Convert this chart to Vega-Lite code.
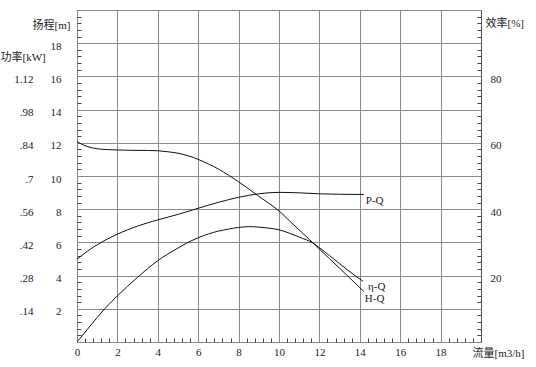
{
  "$schema": "https://vega.github.io/schema/vega-lite/v6.json",
  "width": 404,
  "height": 332,
  "autosize": {"type": "none"},
  "padding": {"left": 77, "top": 10, "right": 55, "bottom": 25},
  "background": "white",
  "config": {
    "view": {"stroke": "#555", "strokeWidth": 1},
    "axis": {
      "labelFont": "Liberation Serif",
      "labelFontSize": 11,
      "labelColor": "#222",
      "titleFont": "Liberation Serif, Noto Sans CJK SC",
      "titleFontSize": 11,
      "titleFontWeight": "normal",
      "titleColor": "#222",
      "gridColor": "#888",
      "domain": false
    },
    "text": {"font": "Liberation Serif, Noto Sans CJK SC", "fontSize": 11, "color": "#222"}
  },
  "datasets": {
    "head": [
      {"Q": 0, "H": 12.06}, {"Q": 0.5, "H": 11.78}, {"Q": 1, "H": 11.64}, {"Q": 1.5, "H": 11.59},
      {"Q": 2, "H": 11.57}, {"Q": 2.65, "H": 11.55}, {"Q": 3.5, "H": 11.54}, {"Q": 4, "H": 11.52},
      {"Q": 4.5, "H": 11.46}, {"Q": 5, "H": 11.37}, {"Q": 5.5, "H": 11.22}, {"Q": 6, "H": 11.0},
      {"Q": 6.5, "H": 10.73}, {"Q": 7, "H": 10.42}, {"Q": 7.5, "H": 10.05}, {"Q": 8, "H": 9.65},
      {"Q": 8.5, "H": 9.22}, {"Q": 9, "H": 8.78}, {"Q": 9.5, "H": 8.35}, {"Q": 10, "H": 7.9},
      {"Q": 10.5, "H": 7.32}, {"Q": 11, "H": 6.75}, {"Q": 11.5, "H": 6.18}, {"Q": 12, "H": 5.6},
      {"Q": 12.5, "H": 5.02}, {"Q": 13, "H": 4.44}, {"Q": 13.5, "H": 3.86}, {"Q": 14, "H": 3.28},
      {"Q": 14.2, "H": 3.04}
    ],
    "power": [
      {"Q": 0, "P": 0.349}, {"Q": 0.5, "P": 0.382}, {"Q": 1, "P": 0.41}, {"Q": 1.5, "P": 0.434},
      {"Q": 2, "P": 0.455}, {"Q": 3, "P": 0.489}, {"Q": 4, "P": 0.515}, {"Q": 5, "P": 0.538},
      {"Q": 6, "P": 0.564}, {"Q": 7, "P": 0.589}, {"Q": 8, "P": 0.61}, {"Q": 9, "P": 0.625},
      {"Q": 10, "P": 0.631}, {"Q": 11, "P": 0.629}, {"Q": 12, "P": 0.625}, {"Q": 13, "P": 0.623},
      {"Q": 14.2, "P": 0.622}
    ],
    "eff": [
      {"Q": 0, "E": 0}, {"Q": 0.5, "E": 3.7}, {"Q": 1, "E": 7.4}, {"Q": 1.39, "E": 10.1},
      {"Q": 2, "E": 13.9}, {"Q": 3, "E": 19.5}, {"Q": 4, "E": 24.5}, {"Q": 5, "E": 28.3},
      {"Q": 5.5, "E": 30.0}, {"Q": 6, "E": 31.4}, {"Q": 7, "E": 33.4}, {"Q": 7.5, "E": 34.0},
      {"Q": 8, "E": 34.5}, {"Q": 8.5, "E": 34.75}, {"Q": 9, "E": 34.6}, {"Q": 9.5, "E": 34.3},
      {"Q": 10, "E": 33.8}, {"Q": 10.5, "E": 32.8}, {"Q": 11, "E": 31.6}, {"Q": 11.7, "E": 29.75},
      {"Q": 12, "E": 28.4}, {"Q": 13, "E": 23.6}, {"Q": 13.76, "E": 20.0}, {"Q": 14.16, "E": 18.3}
    ],
    "labelH": [{"Q": 14.2, "H": 3.04, "label": "H-Q"}],
    "labelP": [{"Q": 14.2, "P": 0.622, "label": "P-Q"}],
    "labelE": [{"Q": 14.16, "E": 18.3, "label": "η-Q"}]
  },
  "layer": [
    {
      "data": {"name": "head"},
      "mark": {"type": "line", "color": "#111", "strokeWidth": 1, "interpolate": "monotone"},
      "encoding": {
        "x": {
          "field": "Q", "type": "quantitative",
          "scale": {"domain": [0, 20], "nice": false},
          "axis": {
            "orient": "bottom",
            "values": [0, 2, 4, 6, 8, 10, 12, 14, 16, 18],
            "grid": true, "ticks": false, "labelPadding": 4,
            "labelFlush": false,
            "title": "流量[m3/h]", "titleX": 395, "titleY": 11,
            "titleAlign": "left", "titleBaseline": "middle"
          }
        },
        "y": {
          "field": "H", "type": "quantitative",
          "scale": {"domain": [0, 20], "nice": false},
          "axis": {
            "orient": "left",
            "values": [0, 2, 4, 6, 8, 10, 12, 14, 16, 18, 20],
            "grid": true, "ticks": false, "labelPadding": 16, "labelOffset": 3,
            "labelFlush": false,
            "labelExpr": "datum.value == 0 || datum.value == 20 ? '' : datum.label",
            "title": "扬程[m]", "titleAngle": 0, "titleX": -7, "titleY": 15,
            "titleAlign": "right", "titleBaseline": "middle"
          }
        }
      }
    },
    {
      "data": {"name": "power"},
      "mark": {"type": "line", "color": "#111", "strokeWidth": 1, "interpolate": "monotone"},
      "encoding": {
        "x": {"field": "Q", "type": "quantitative", "scale": {"domain": [0, 20], "nice": false}, "axis": null},
        "y": {
          "field": "P", "type": "quantitative",
          "scale": {"domain": [0, 1.4], "nice": false},
          "axis": {
            "orient": "left", "offset": 40,
            "values": [0.14, 0.28, 0.42, 0.56, 0.7, 0.84, 0.98, 1.12],
            "grid": false, "ticks": false, "labelPadding": 4, "labelOffset": 3,
            "labelFlush": false,
            "labelExpr": "datum.value < 1 ? slice(format(datum.value, '.2~f'), 1) : format(datum.value, '.2~f')",
            "title": "功率[kW]", "titleAngle": 0, "titleX": -37, "titleY": 47,
            "titleAlign": "left", "titleBaseline": "middle"
          }
        }
      }
    },
    {
      "data": {"name": "eff"},
      "mark": {"type": "line", "color": "#111", "strokeWidth": 1, "interpolate": "monotone"},
      "encoding": {
        "x": {"field": "Q", "type": "quantitative", "scale": {"domain": [0, 20], "nice": false}, "axis": null},
        "y": {
          "field": "E", "type": "quantitative",
          "scale": {"domain": [0, 100], "nice": false},
          "axis": {
            "orient": "right",
            "values": [20, 40, 60, 80],
            "grid": false, "ticks": false, "labelPadding": 9, "labelOffset": 3,
            "labelFlush": false,
            "title": "效率[%]", "titleAngle": 0, "titleX": 4, "titleY": 13,
            "titleAlign": "left", "titleBaseline": "middle"
          }
        }
      }
    },
    {
      "data": {"name": "labelH"},
      "mark": {"type": "text", "align": "left", "baseline": "middle", "dx": 1, "dy": 7.5},
      "encoding": {
        "text": {"field": "label"},
        "x": {"field": "Q", "type": "quantitative", "scale": {"domain": [0, 20], "nice": false}, "axis": null},
        "y": {"field": "H", "type": "quantitative", "scale": {"domain": [0, 20], "nice": false}, "axis": null}
      }
    },
    {
      "data": {"name": "labelP"},
      "mark": {"type": "text", "align": "left", "baseline": "middle", "dx": 2, "dy": 7},
      "encoding": {
        "text": {"field": "label"},
        "x": {"field": "Q", "type": "quantitative", "scale": {"domain": [0, 20], "nice": false}, "axis": null},
        "y": {"field": "P", "type": "quantitative", "scale": {"domain": [0, 1.4], "nice": false}, "axis": null}
      }
    },
    {
      "data": {"name": "labelE"},
      "mark": {"type": "text", "align": "left", "baseline": "middle", "dx": 5, "dy": 5.5},
      "encoding": {
        "text": {"field": "label"},
        "x": {"field": "Q", "type": "quantitative", "scale": {"domain": [0, 20], "nice": false}, "axis": null},
        "y": {"field": "E", "type": "quantitative", "scale": {"domain": [0, 100], "nice": false}, "axis": null}
      }
    },
    {
      "data": {"name": "labelH"},
      "mark": {"type": "text", "text": ""},
      "encoding": {
        "x": {"field": "Q", "type": "quantitative", "scale": {"domain": [0, 20], "nice": false},
          "axis": {"orient": "top", "offset": -332, "tickCount": 100, "values": [0.4, 0.8, 1.2, 1.6, 2.4, 2.8, 3.2, 3.6, 4.4, 4.8], "grid": false, "ticks": true, "tickSize": 4, "tickColor": "#444", "labels": false, "title": null}},
        "y": {"field": "H", "type": "quantitative", "scale": {"domain": [0, 20], "nice": false},
          "axis": {"orient": "right", "offset": -404, "tickCount": 100, "values": [0.4, 0.8, 1.2, 1.6, 2.4, 2.8, 3.2, 3.6, 4.4, 4.8], "grid": false, "ticks": true, "tickSize": 4, "tickColor": "#444", "labels": false, "title": null}}
      }
    },
    {
      "data": {"name": "labelH"},
      "mark": {"type": "text", "text": ""},
      "encoding": {
        "x": {"field": "Q", "type": "quantitative", "scale": {"domain": [0, 20], "nice": false},
          "axis": {"orient": "top", "offset": -332, "tickCount": 100, "values": [5.2, 5.6, 6.4, 6.8, 7.2, 7.6, 8.4, 8.8, 9.2, 9.6], "grid": false, "ticks": true, "tickSize": 4, "tickColor": "#444", "labels": false, "title": null}},
        "y": {"field": "H", "type": "quantitative", "scale": {"domain": [0, 20], "nice": false},
          "axis": {"orient": "right", "offset": -404, "tickCount": 100, "values": [5.2, 5.6, 6.4, 6.8, 7.2, 7.6, 8.4, 8.8, 9.2, 9.6], "grid": false, "ticks": true, "tickSize": 4, "tickColor": "#444", "labels": false, "title": null}}
      }
    },
    {
      "data": {"name": "labelH"},
      "mark": {"type": "text", "text": ""},
      "encoding": {
        "x": {"field": "Q", "type": "quantitative", "scale": {"domain": [0, 20], "nice": false},
          "axis": {"orient": "top", "offset": -332, "tickCount": 100, "values": [10.4, 10.8, 11.2, 11.6, 12.4, 12.8, 13.2, 13.6, 14.4, 14.8], "grid": false, "ticks": true, "tickSize": 4, "tickColor": "#444", "labels": false, "title": null}},
        "y": {"field": "H", "type": "quantitative", "scale": {"domain": [0, 20], "nice": false},
          "axis": {"orient": "right", "offset": -404, "tickCount": 100, "values": [10.4, 10.8, 11.2, 11.6, 12.4, 12.8, 13.2, 13.6, 14.4, 14.8], "grid": false, "ticks": true, "tickSize": 4, "tickColor": "#444", "labels": false, "title": null}}
      }
    },
    {
      "data": {"name": "labelH"},
      "mark": {"type": "text", "text": ""},
      "encoding": {
        "x": {"field": "Q", "type": "quantitative", "scale": {"domain": [0, 20], "nice": false},
          "axis": {"orient": "top", "offset": -332, "tickCount": 100, "values": [15.2, 15.6, 16.4, 16.8, 17.2, 17.6, 18.4, 18.8, 19.2, 19.6], "grid": false, "ticks": true, "tickSize": 4, "tickColor": "#444", "labels": false, "title": null}},
        "y": {"field": "H", "type": "quantitative", "scale": {"domain": [0, 20], "nice": false},
          "axis": {"orient": "right", "offset": -404, "tickCount": 100, "values": [15.2, 15.6, 16.4, 16.8, 17.2, 17.6, 18.4, 18.8, 19.2, 19.6], "grid": false, "ticks": true, "tickSize": 4, "tickColor": "#444", "labels": false, "title": null}}
      }
    },
    {
      "data": {"name": "labelE"},
      "mark": {"type": "text", "text": ""},
      "encoding": {
        "x": {"field": "Q", "type": "quantitative", "scale": {"domain": [0, 20], "nice": false}, "axis": null},
        "y": {"field": "E", "type": "quantitative", "scale": {"domain": [0, 100], "nice": false},
          "axis": {"orient": "left", "offset": -404, "tickCount": 100, "values": [2, 4, 6, 8, 12, 14, 16, 18, 22, 24], "grid": false, "ticks": true, "tickSize": 4, "tickColor": "#444", "labels": false, "title": null}}
      }
    },
    {
      "data": {"name": "labelE"},
      "mark": {"type": "text", "text": ""},
      "encoding": {
        "x": {"field": "Q", "type": "quantitative", "scale": {"domain": [0, 20], "nice": false}, "axis": null},
        "y": {"field": "E", "type": "quantitative", "scale": {"domain": [0, 100], "nice": false},
          "axis": {"orient": "left", "offset": -404, "tickCount": 100, "values": [26, 28, 32, 34, 36, 38, 42, 44, 46, 48], "grid": false, "ticks": true, "tickSize": 4, "tickColor": "#444", "labels": false, "title": null}}
      }
    },
    {
      "data": {"name": "labelE"},
      "mark": {"type": "text", "text": ""},
      "encoding": {
        "x": {"field": "Q", "type": "quantitative", "scale": {"domain": [0, 20], "nice": false}, "axis": null},
        "y": {"field": "E", "type": "quantitative", "scale": {"domain": [0, 100], "nice": false},
          "axis": {"orient": "left", "offset": -404, "tickCount": 100, "values": [52, 54, 56, 58, 62, 64, 66, 68, 72, 74], "grid": false, "ticks": true, "tickSize": 4, "tickColor": "#444", "labels": false, "title": null}}
      }
    },
    {
      "data": {"name": "labelE"},
      "mark": {"type": "text", "text": ""},
      "encoding": {
        "x": {"field": "Q", "type": "quantitative", "scale": {"domain": [0, 20], "nice": false}, "axis": null},
        "y": {"field": "E", "type": "quantitative", "scale": {"domain": [0, 100], "nice": false},
          "axis": {"orient": "left", "offset": -404, "tickCount": 100, "values": [76, 78, 82, 84, 86, 88, 92, 94, 96, 98], "grid": false, "ticks": true, "tickSize": 4, "tickColor": "#444", "labels": false, "title": null}}
      }
    }
  ],
  "resolve": {"scale": {"y": "independent"}, "axis": {"x": "independent", "y": "independent"}}
}
